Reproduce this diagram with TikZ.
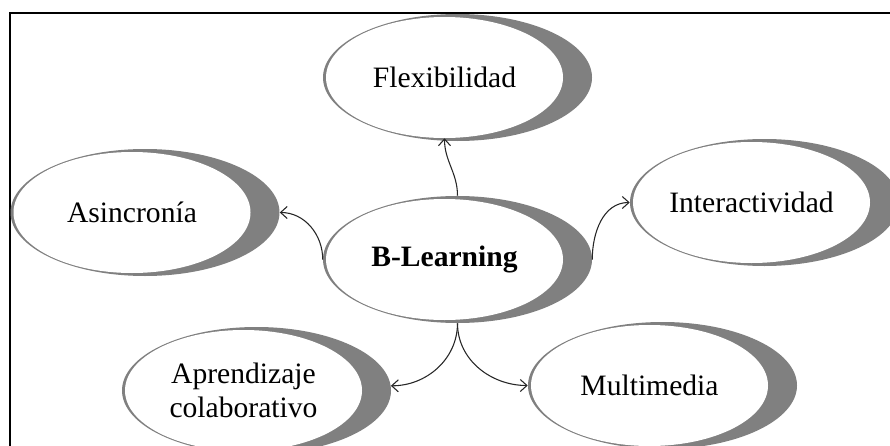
\documentclass[tikz,border=0pt]{standalone}
\usepackage{fontspec}
\setmainfont{Liberation Serif}
\usetikzlibrary{shapes.geometric,arrows.meta}
\definecolor{shade}{HTML}{808080}
\tikzset{
  outerbub/.style={ellipse, fill=shade, minimum width=201.75pt, minimum height=95.25pt, inner sep=0pt},
  innerbub/.style={ellipse, fill=white, minimum width=177.75pt, minimum height=90.75pt, inner sep=0pt,
    font=\fontsize{22.2}{25}\selectfont, align=center},
  link/.style={draw=black!85, line width=0.8pt, -{Straight Barb[length=5pt,width=9pt]}},
}
\begin{document}
\begin{tikzpicture}[x=0.75pt,y=-0.75pt]
\useasboundingbox (0,0) rectangle (890,446);
\clip (0,0) rectangle (890,446);
\fill[white] (0,0) rectangle (890,446);
\draw[line width=1.5pt] (10,13) rectangle (900,460);

\node[outerbub] (flex) at (457.5,77.5) {};
\node[innerbub] (flexi) at ([xshift=-9.75pt]flex.center) {Flexibilidad};

\node[outerbub] (bl) at (457.5,259.5) {};
\node[innerbub] (bli) at ([xshift=-9.75pt]bl.center) {\textbf{B-Learning}};

\node[outerbub] (asinc) at (145,212.5) {};
\node[innerbub] (asinci) at ([xshift=-9.75pt]asinc.center) {Asincronía};

\node[outerbub] (inter) at (764.5,202.5) {};
\node[innerbub] (interi) at ([xshift=-9.75pt]inter.center) {Interactividad};

\node[outerbub] (apren) at (256.5,390.5) {};
\node[innerbub] (apreni) at ([xshift=-9.75pt]apren.center) {Aprendizaje\\colaborativo};

\node[outerbub] (multi) at (662.5,385.5) {};
\node[innerbub] (multii) at ([xshift=-9.75pt]multi.center) {Multimedia};

\draw[link] (bl.north) to[out=90,in=-90] (flexi.south);
\draw[link] (bl.west) to[out=90,in=0] (asinc.east);
\draw[link] (bl.east) to[out=90,in=180] (inter.west);
\draw[link] (bl.south) to[out=-90,in=0] (apren.2);
\draw[link] (bl.south) to[out=-90,in=180] (multi.west);
\end{tikzpicture}
\end{document}
